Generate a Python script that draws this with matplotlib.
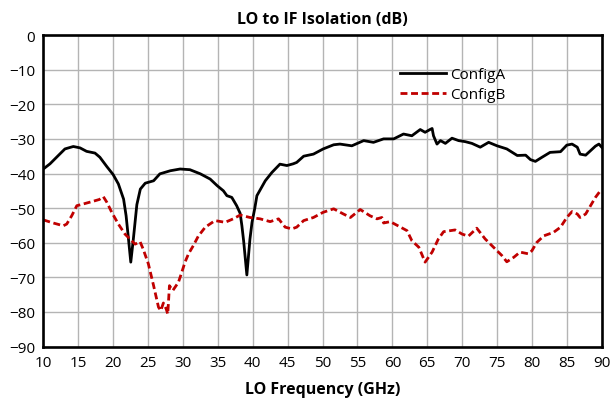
import matplotlib.pyplot as plt

plt.rcParams['font.family'] = ['Open Sans', 'DejaVu Sans']

# ConfigA (black solid)
freq_a = [10.0, 10.96, 12.15, 13.1, 14.3, 15.26, 16.2, 17.4, 18.1, 19.1, 20.0,
          20.75, 21.5, 21.86, 22.2, 22.53, 22.9, 23.4, 23.9, 24.6, 25.8, 26.7,
          28.2, 29.6, 31.0, 32.5, 33.9, 34.9, 35.8, 36.3, 37.0, 37.7, 38.2,
          38.45, 38.7, 39.16, 39.6, 39.9, 40.3, 40.6, 41.8, 42.75, 43.9, 44.9,
          45.8, 46.3, 47.3, 48.7, 50.1, 51.6, 52.5, 54.2, 55.9, 57.3, 58.75,
          60.2, 61.6, 62.8, 64.0, 64.7, 65.4, 65.7, 65.9, 66.4, 66.9, 67.6,
          68.55, 69.5, 70.45, 71.4, 72.6, 73.8, 75.0, 76.4, 77.9, 79.1, 79.8,
          80.5, 81.45, 82.6, 84.1, 85.0, 85.75, 86.5, 86.9, 87.7, 88.4, 89.1,
          89.6, 90.0]
iso_a = [-38.7, -37.2, -34.8, -32.9, -32.2, -32.6, -33.6, -34.1, -35.3, -38.0,
         -40.3, -43.0, -47.4, -52.2, -58.9, -65.6, -58.9, -49.0, -44.5, -42.8,
         -42.1, -40.1, -39.2, -38.7, -38.9, -40.1, -41.6, -43.5, -45.0, -46.4,
         -46.9, -49.3, -51.5, -55.1, -59.5, -69.3, -59.0, -54.1, -50.0, -46.4,
         -42.1, -39.7, -37.3, -37.7, -37.2, -36.8, -35.0, -34.4, -32.9, -31.7,
         -31.5, -32.0, -30.5, -31.0, -30.0, -30.0, -28.6, -29.1, -27.3, -28.1,
         -27.3, -27.0, -29.1, -31.5, -30.5, -31.3, -29.8, -30.5, -30.8, -31.3,
         -32.4, -31.0, -32.0, -32.9, -34.8, -34.7, -36.0, -36.5, -35.3, -33.9,
         -33.7, -31.8, -31.5, -32.4, -34.4, -34.7, -33.4, -32.1, -31.5, -32.4]

# ConfigB (red dashed)
freq_b = [10.0, 11.43, 12.87, 13.35, 14.07, 14.8, 15.73, 17.17, 18.03, 18.6,
          19.1, 19.8, 20.75, 21.7, 22.4, 23.15, 23.86, 24.3, 25.05, 25.8, 26.5,
          26.83, 27.2, 27.6, 27.83, 28.07, 28.55, 29.36, 29.84, 30.3, 30.8,
          31.5, 32.2, 33.2, 34.6, 36.05, 37.2, 38.2, 39.6, 41.07, 42.5, 43.7,
          44.65, 45.6, 46.3, 47.3, 48.7, 50.1, 51.6, 53.0, 54.0, 55.4, 56.8,
          57.8, 58.5, 58.75, 59.7, 60.9, 62.1, 62.8, 63.8, 64.7, 65.7, 66.6,
          67.35, 69.0, 70.0, 70.9, 72.1, 73.3, 74.5, 75.7, 76.4, 77.4, 78.3,
          79.5, 80.0, 80.7, 81.7, 83.1, 84.1, 85.0, 85.75, 86.5, 86.9, 87.7,
          88.4, 89.1, 89.8, 90.0]
iso_b = [-53.4, -54.3, -55.1, -54.6, -52.2, -49.3, -48.8, -48.0, -47.5, -46.7,
         -48.3, -51.2, -54.6, -57.5, -58.9, -60.4, -59.7, -61.8, -66.1, -72.4,
         -78.6, -79.6, -77.4, -79.1, -80.6, -72.4, -73.8, -71.4, -68.5, -65.6,
         -63.2, -60.8, -58.1, -55.5, -53.6, -54.1, -53.1, -52.0, -52.7, -53.1,
         -53.9, -53.1, -55.5, -56.0, -55.5, -53.6, -52.7, -51.2, -50.2, -51.7,
         -52.7, -50.4, -52.2, -53.1, -52.7, -54.3, -53.9, -55.2, -56.5, -59.4,
         -61.3, -65.6, -62.7, -58.9, -56.8, -56.3, -57.5, -58.1, -55.8, -58.9,
         -61.3, -63.7, -65.5, -64.2, -62.7, -63.2, -62.3, -59.9, -58.0, -57.0,
         -55.5, -52.7, -51.0, -51.7, -52.7, -51.7, -49.3, -46.9, -45.0, -44.8]

fig = plt.figure(figsize=(6.11, 4.06), dpi=100)
ax = fig.add_axes([0.0709, 0.1438, 0.9139, 0.7675])

ax.plot(freq_a, iso_a, color='black', lw=2.0, label='ConfigA')
ax.plot(freq_b, iso_b, color='#C00000', lw=2.0, dashes=(2.5, 1.3), label='ConfigB')

ax.set_xlim(10, 90)
ax.set_ylim(-90, 0)
ax.set_xticks(range(10, 91, 5))
ax.set_yticks(range(-90, 1, 10))
ax.grid(True, color='#b4b4b4', lw=1.0)
ax.set_axisbelow(True)
ax.tick_params(length=0, labelsize=11, pad=6)
for s in ax.spines.values():
    s.set_linewidth(1.9)
    s.set_color('black')

ax.set_title('LO to IF Isolation (dB)', fontsize=11.5, fontweight='bold', pad=9)
ax.set_xlabel('LO Frequency (GHz)', fontsize=11.5, fontweight='bold', labelpad=8)

ax.legend(loc='upper left', bbox_to_anchor=(0.614, 0.94), frameon=False,
          fontsize=11, handlelength=3.0, handletextpad=0.3, labelspacing=0.3)

fig.savefig('out.png', dpi=100)
